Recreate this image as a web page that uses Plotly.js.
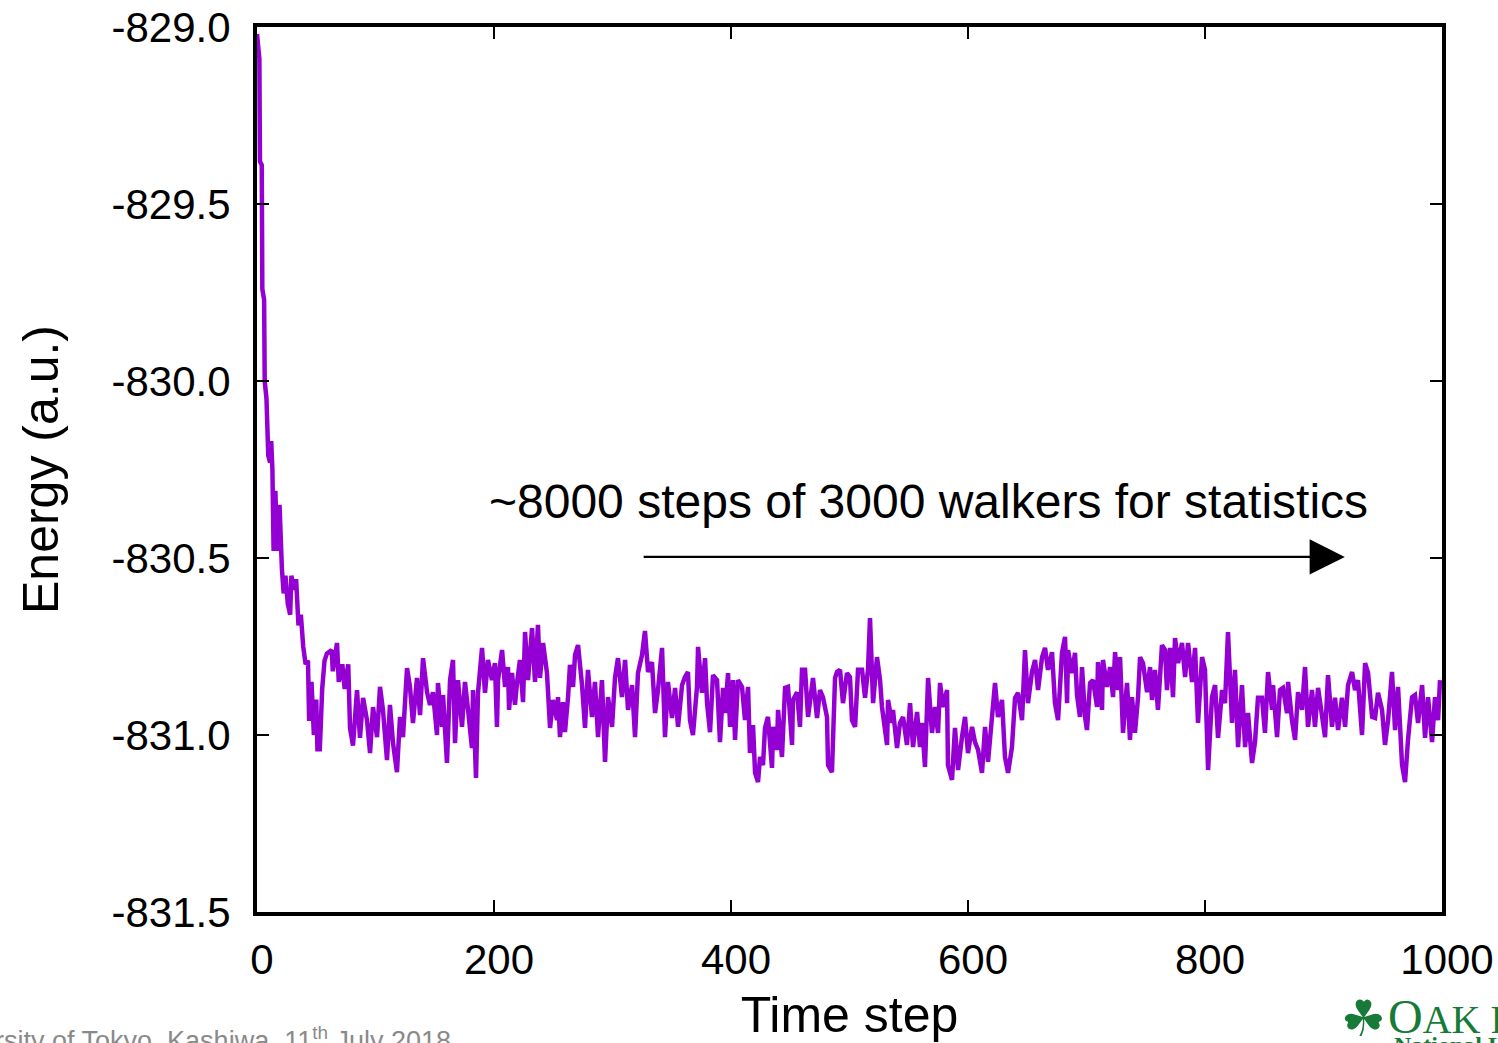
<!DOCTYPE html>
<html>
<head>
<meta charset="utf-8">
<script src="https://cdn.plot.ly/plotly-3.0.1.min.js"></script>
<style>
html,body{margin:0;padding:0;background:#fff;}
#chart{width:1498px;height:1043px;}
</style>
</head>
<body>
<div id="chart"></div>
<script>
// Time steps (x values)
var steps = [
0,2,2.5,4,4.5,6,6.5,8,9.5,11,12,13,14,15.5,17,19,21,22.5,24,26,28,29,31,33,35,37,39,41,43,44,46,48,50,51,53,55,57,59,63,64,67.5,69,72,74,77,78.5,81,
84.4,86.9,89.5,92.8,95.4,97.9,101.3,103.8,106.3,109.7,112.2,114.8,118.1,120.7,123.2,126.6,129.1,131.6,135.0,137.6,140.1,143.5,146.0,148.5,151.9,152.7,156.1,157.0,160.3,162.9,165.4,167.1,169.6,173.0,175.5,178.1,181.4,182.3,184.8,186.5,189.9,192.4,194.9,198.3,
200.8,202.5,203.4,206.8,209.3,211.8,212.7,215.2,217.7,219.4,221.9,224.5,226.2,228.7,232.1,234.6,237.1,238.8,241.4,244.7,247.3,249.8,253.2,254.0,255.7,258.2,259.9,262.5,264.1,266.7,268.4,270.9,274.3,276.8,279.3,282.7,285.2,287.8,291.1,293.7,296.2,299.6,
302.1,304.6,308.0,310.6,313.1,316.5,319.0,321.5,324.9,327.4,330.0,333.3,335.9,338.4,341.8,344.3,346.8,350.2,352.8,355.3,358.7,361.2,363.7,365.4,367.9,371.3,372.2,375.5,378.1,379.8,382.3,384.8,388.2,390.7,393.3,395.0,397.5,399.2,
401.7,403.4,405.9,409.3,411.8,414.4,416.0,418.6,420.3,422.8,424.5,427.0,428.7,431.2,434.6,435.5,438.8,439.7,443.0,445.6,448.1,451.5,452.3,455.7,458.2,459.9,462.5,465.0,468.4,469.2,472.6,475.1,477.6,481.0,481.9,485.2,487.8,489.5,492.0,494.5,497.9,
500.4,502.1,504.7,507.2,510.6,513.1,515.6,517.3,519.9,523.2,525.8,527.4,530.0,531.7,532.5,535.9,536.7,540.1,542.6,545.2,548.5,551.1,553.6,557.0,559.5,561.2,563.7,566.3,569.6,572.2,574.7,576.4,578.9,582.3,583.1,586.5,589.0,591.6,594.9,597.5,
600.0,603.4,605.9,608.5,611.8,614.4,616.9,620.3,622.8,625.3,628.7,631.2,633.8,637.1,639.7,642.2,645.6,648.1,650.6,654.0,656.6,659.1,662.5,665.0,667.5,670.9,673.4,676.0,679.3,681.9,683.6,684.4,687.8,690.3,692.0,694.5,696.2,698.8,
700.4,703.0,705.5,708.9,709.7,713.1,713.9,717.3,719.9,722.4,724.1,726.6,728.3,730.8,734.2,736.7,738.4,740.9,743.5,745.2,747.7,751.1,753.6,755.3,757.8,760.3,763.7,766.3,767.9,770.5,773.0,774.7,777.3,780.6,783.2,785.7,789.1,791.6,794.1,797.5,
800.0,802.6,805.9,808.5,811.0,814.4,816.9,819.4,822.8,825.3,827.9,831.2,833.8,836.3,839.7,842.2,844.7,848.1,850.6,853.2,856.6,857.4,860.8,863.3,865.8,869.2,870.1,873.4,876.0,878.5,881.9,884.4,886.9,890.3,892.8,895.4,898.8,
901.3,903.8,907.2,909.7,912.3,915.6,918.2,920.7,924.1,926.6,929.1,932.5,935.1,937.6,941.0,943.5,946.0,949.4,951.9,954.5,957.8,960.4,962.9,966.3,968.8,971.3,974.7,977.2,979.8,983.2,985.7,988.2,991.6,994.1,996.7,998.3
];

// Energy (a.u.)
var energy = [
-829.02,-829.09,-829.38,-829.39,-829.74,-829.77,-830.00,-830.05,-830.21,-830.23,-830.17,-830.25,-830.48,-830.31,-830.48,-830.35,-830.53,-830.60,-830.55,-830.63,-830.66,-830.55,-830.59,-830.56,-830.69,-830.66,-830.75,-830.80,-830.79,-830.96,-830.85,-831.00,-830.90,-831.04,-831.04,-830.87,-830.79,-830.77,-830.76,-830.82,-830.74,-830.85,-830.80,-830.87,-830.80,-830.98,-831.03,
-830.873,-831.008,-830.895,-830.958,-831.051,-830.921,-831.006,-830.864,-830.929,-831.071,-830.915,-831.023,-831.105,-830.949,-831.006,-830.811,-830.864,-830.966,-830.839,-830.944,-830.783,-830.879,-830.915,-830.879,-831.000,-830.853,-830.977,-830.887,-831.079,-830.845,-830.788,-831.023,-830.845,-830.977,-830.850,-830.929,-831.037,-830.873,-831.121,-830.881,-830.754,-830.881,-830.788,-830.845,
-830.797,-830.977,-830.845,-830.760,-830.864,-830.808,-830.929,-830.825,-830.915,-830.853,-830.788,-830.907,-830.709,-830.845,-830.698,-830.850,-830.689,-830.839,-830.740,-830.825,-830.980,-830.901,-830.958,-830.893,-831.006,-830.907,-830.992,-830.893,-830.802,-830.864,-830.774,-830.746,-830.859,-830.980,-830.816,-830.949,-830.850,-831.006,-830.845,-831.076,-830.893,-830.977,
-830.839,-830.783,-830.893,-830.788,-830.929,-830.859,-831.006,-830.825,-830.774,-830.706,-830.822,-830.794,-830.938,-830.873,-830.754,-831.006,-830.850,-830.952,-830.867,-830.977,-830.859,-830.836,-830.822,-830.958,-831.000,-830.864,-830.751,-830.881,-830.783,-830.910,-830.992,-830.831,-830.845,-831.020,-830.867,-830.938,-830.825,-830.977,
-830.845,-831.014,-830.845,-830.864,-830.958,-830.864,-831.051,-830.972,-831.107,-831.133,-831.062,-831.085,-830.980,-830.949,-831.093,-830.977,-831.042,-830.929,-831.062,-830.867,-830.864,-831.028,-830.901,-830.879,-830.977,-830.816,-830.816,-830.949,-830.873,-830.839,-830.952,-830.873,-830.893,-830.949,-831.085,-831.105,-830.839,-830.822,-830.816,-830.910,-830.825,
-830.836,-830.958,-830.977,-830.816,-830.816,-830.895,-830.816,-830.670,-830.910,-830.780,-830.845,-830.921,-830.986,-831.028,-830.901,-830.966,-830.929,-831.037,-830.966,-830.949,-831.028,-830.910,-831.034,-830.935,-831.034,-830.966,-831.090,-830.839,-830.994,-830.921,-830.994,-830.853,-830.921,-830.873,-831.085,-831.127,-830.980,-831.099,-831.006,-830.949,
-831.051,-830.977,-831.020,-831.042,-831.107,-830.977,-831.076,-830.949,-830.853,-830.949,-830.901,-831.062,-831.107,-831.034,-830.895,-830.881,-830.958,-830.760,-830.910,-830.822,-830.788,-830.873,-830.780,-830.754,-830.816,-830.766,-830.910,-830.958,-830.768,-830.723,-830.910,-830.760,-830.825,-830.768,-830.887,-830.949,-830.808,-830.949,
-830.986,-830.853,-830.845,-830.921,-830.794,-830.929,-830.788,-830.864,-830.808,-830.893,-830.766,-830.873,-830.780,-830.994,-830.853,-831.014,-830.893,-830.994,-830.893,-830.780,-830.797,-830.879,-830.808,-830.901,-830.816,-830.929,-830.746,-830.760,-830.873,-830.754,-830.893,-830.726,-830.797,-830.740,-830.836,-830.740,-830.850,-830.754,-830.966,-830.780,
-830.816,-831.099,-830.893,-830.859,-831.008,-830.873,-830.910,-830.709,-830.966,-830.816,-831.034,-830.859,-831.034,-830.938,-831.079,-831.020,-830.895,-830.895,-830.994,-830.822,-830.929,-830.859,-831.006,-830.873,-830.867,-830.938,-830.850,-830.958,-831.014,-830.879,-830.929,-830.808,-830.977,-830.873,-830.977,-830.867,-830.949,
-831.006,-830.831,-830.977,-830.895,-830.986,-830.895,-830.977,-830.859,-830.822,-830.873,-830.845,-831.000,-830.797,-830.825,-830.949,-830.952,-830.881,-830.929,-831.028,-830.958,-830.822,-830.986,-830.864,-831.085,-831.133,-831.014,-830.893,-830.887,-830.966,-830.859,-831.008,-830.893,-831.020,-830.893,-830.958,-830.845
];

var xTickVals = [0, 200, 400, 600, 800, 1000];
var xTickLabels = ["0", "200", "400", "600", "800", "1000"];
var yTickVals = [-831.5, -831.0, -830.5, -830.0, -829.5, -829.0];
var yTickLabels = ["-831.5", "-831.0", "-830.5", "-830.0", "-829.5", "-829.0"];

var xTitle = "Time step";
var yTitle = "Energy (a.u.)";
var noteText = "~8000 steps of 3000 walkers for statistics";
var notePos = [567, -830.34];
var arrowFrom = [325, -830.497];
var arrowTo = [918, -830.497];
var footerText = "University of Tokyo, Kashiwa, 11<sup>th</sup> July 2018";

var FONT = "Liberation Sans, Arial, Helvetica, sans-serif";
var SERIF = "Liberation Serif, Times New Roman, serif";
var GREEN = "#177a38";

// plot area in pixels (for positioning paper-referenced decorations)
var PL = 257, PW = 1185;
function px2paperX(p) { return (p - PL) / PW; }

var trace = {
  x: steps, y: energy, type: "scatter", mode: "lines",
  line: {color: "#9400D3", width: 4.5},
  hoverinfo: "skip", showlegend: false
};

var axisCommon = {
  showline: true, linecolor: "#000", linewidth: 4, mirror: "ticks",
  ticks: "inside", ticklen: 12, tickwidth: 2, tickcolor: "#000",
  showgrid: false, zeroline: false,
  tickfont: {family: FONT, size: 42, color: "#000"}
};

var layout = {
  width: 1498, height: 1043,
  paper_bgcolor: "#fff", plot_bgcolor: "rgba(0,0,0,0)",
  margin: {l: 257, r: 56, t: 27, b: 131, pad: 0},
  xaxis: Object.assign({}, axisCommon, {
    range: [0, 1000], tickvals: xTickVals, ticktext: xTickLabels,
    ticklabelstandoff: 8, ticklabelshift: 5,
    title: {text: xTitle, font: {family: FONT, size: 50, color: "#000"}, standoff: 19}
  }),
  yaxis: Object.assign({}, axisCommon, {
    range: [-831.5, -829.0], tickvals: yTickVals, ticktext: yTickLabels,
    ticklabelstandoff: 14,
    title: {text: yTitle, font: {family: FONT, size: 50, color: "#000"}, standoff: 38}
  }),
  annotations: [
    {x: arrowTo[0], y: arrowTo[1], ax: arrowFrom[0], ay: arrowFrom[1],
     xref: "x", yref: "y", axref: "x", ayref: "y",
     showarrow: true, arrowhead: 2, arrowsize: 3.2, arrowwidth: 2.2, arrowcolor: "#000", text: "", standoff: 0},
    {x: notePos[0], y: notePos[1], xref: "x", yref: "y",
     text: noteText, showarrow: false, xanchor: "center", yanchor: "middle",
     font: {family: FONT, size: 48, color: "#000"}},
    {x: px2paperX(453), y: 0, xref: "paper", yref: "paper", yanchor: "top", xanchor: "right",
     text: footerText, showarrow: false, yshift: -108,
     font: {family: FONT, size: 27, color: "#8a8a8a"}},
    {x: px2paperX(1386), y: 0, xref: "paper", yref: "paper", xanchor: "left", yanchor: "top",
     text: "O<span style=\"font-size:40px\">AK R</span>", showarrow: false, yshift: -76,
     font: {family: SERIF, size: 48, color: GREEN}},
    {x: px2paperX(1392), y: 0, xref: "paper", yref: "paper", xanchor: "left", yanchor: "top",
     text: "<b>National L</b>", showarrow: false, yshift: -118,
     font: {family: SERIF, size: 24, color: GREEN}},
    {x: px2paperX(1363), y: 0, xref: "paper", yref: "paper", xanchor: "center", yanchor: "top",
     text: "\u2618", showarrow: false, yshift: -76,
     font: {family: "DejaVu Sans, sans-serif", size: 50, color: GREEN}}
  ]
};

Plotly.newPlot("chart", [trace], layout, {displayModeBar: false, staticPlot: true});
</script>
</body>
</html>
